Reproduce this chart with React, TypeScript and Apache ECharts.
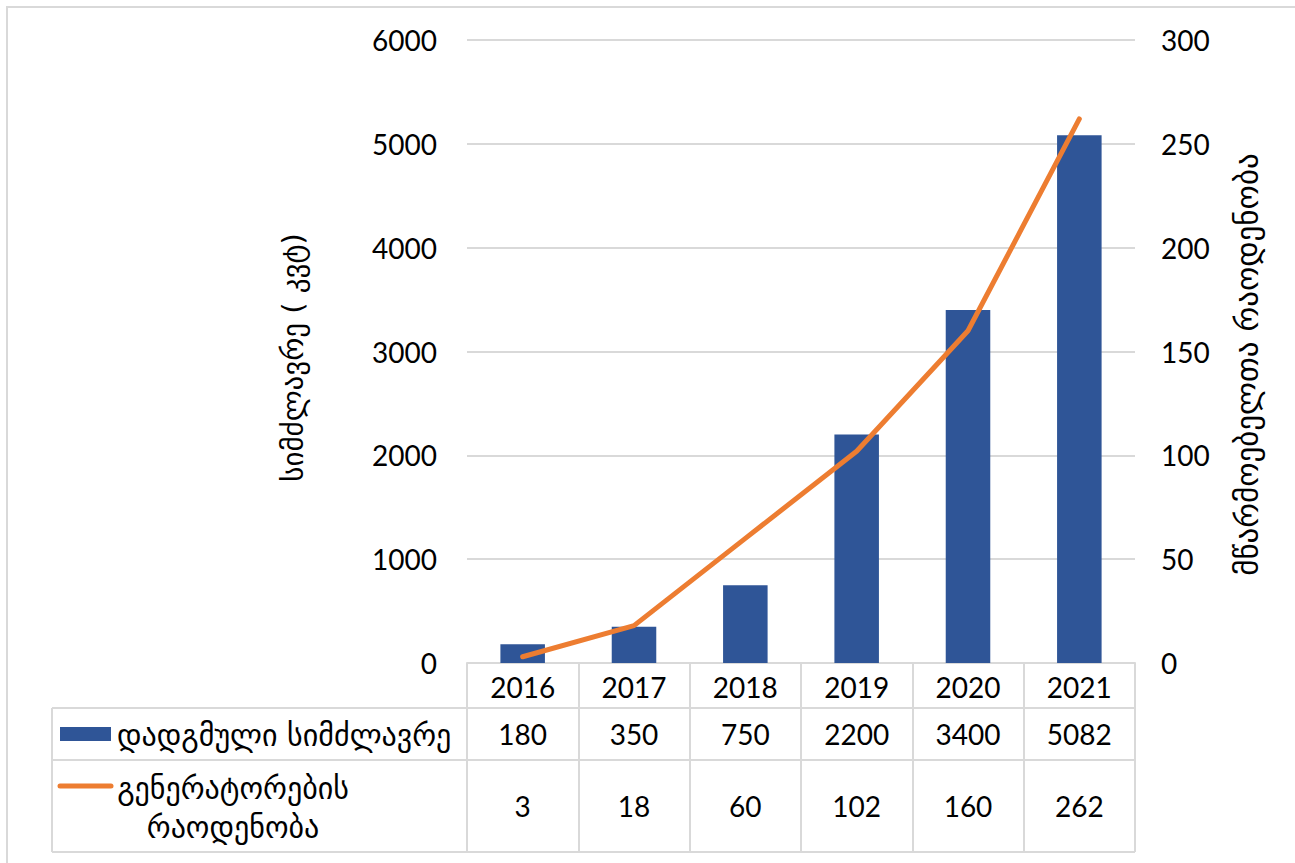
import React, { useEffect, useRef } from "react";
import * as echarts from "echarts";

const years = ["2016", "2017", "2018", "2019", "2020", "2021"];
const capacity = [180, 350, 750, 2200, 3400, 5082];
const generators = [3, 18, 60, 102, 160, 262];
const capacityName = "დადგმული სიმძლავრე";
const generatorsName = ["გენერატორების", "რაოდენობა"];
const leftTitle = "სიმძლავრე ( კვტ)";
const rightTitle = "მწარმოებელთა რაოდენობა";

const W = 1295;
const H = 863;
const gridLeft = 467;
const gridRight = 1135;
const gridTop = 40;
const gridBottom = 663;
const tableLeft = 52;
const row1 = 708;
const row2 = 760;
const row3 = 852;
const FONT = "Lato, 'DejaVu Sans', sans-serif";
const GEO = "'DejaVu Sans', sans-serif";
const BLUE = "#2F5597";
const ORANGE = "#ED7D31";
const GRID = "#D9D9D9";

export default function App() {
  const ref = useRef<HTMLDivElement>(null);
  useEffect(() => {
    document.body.style.margin = "0";
    const chart = echarts.init(ref.current!, null, { renderer: "svg" });
    const colW = (gridRight - gridLeft) / years.length;
    const graphics: any[] = [];
    graphics.push({
      type: "rect",
      shape: { x: 7, y: 7, width: W + 20, height: H + 20 },
      style: { fill: "none", stroke: GRID, lineWidth: 2 },
      silent: true,
    });
    [row1, row2, row3].forEach((y) => {
      graphics.push({
        type: "line",
        shape: { x1: tableLeft, y1: y, x2: gridRight, y2: y },
        style: { stroke: GRID, lineWidth: 2 },
      });
    });
    graphics.push({
      type: "line",
      shape: { x1: tableLeft, y1: row1, x2: tableLeft, y2: row3 },
      style: { stroke: GRID, lineWidth: 2 },
    });
    years.forEach((_, i) => {
      const cx = gridLeft + colW * (i + 0.5);
      graphics.push({
        type: "text",
        x: cx,
        y: (row1 + row2) / 2,
        style: {
          text: String(capacity[i]),
          font: `28px ${FONT}`,
          fill: "#000",
          align: "center",
          verticalAlign: "middle",
        },
      });
      graphics.push({
        type: "text",
        x: cx,
        y: (row2 + row3) / 2,
        style: {
          text: String(generators[i]),
          font: `28px ${FONT}`,
          fill: "#000",
          align: "center",
          verticalAlign: "middle",
        },
      });
    });
    graphics.push({
      type: "rect",
      shape: { x: 60, y: 727, width: 51, height: 14 },
      style: { fill: BLUE },
    });
    graphics.push({
      type: "text",
      x: 117,
      y: 735,
      style: {
        text: capacityName,
        font: `30px ${GEO}`,
        fill: "#000",
        align: "left",
        verticalAlign: "middle",
      },
    });
    graphics.push({
      type: "line",
      shape: { x1: 60, y1: 786, x2: 111, y2: 786 },
      style: { stroke: ORANGE, lineWidth: 5, lineCap: "round" },
    });
    graphics.push({
      type: "text",
      x: 233,
      y: 788,
      style: {
        text: generatorsName[0],
        font: `30px ${GEO}`,
        fill: "#000",
        align: "center",
        verticalAlign: "middle",
      },
    });
    graphics.push({
      type: "text",
      x: 233,
      y: 827,
      style: {
        text: generatorsName[1],
        font: `30px ${GEO}`,
        fill: "#000",
        align: "center",
        verticalAlign: "middle",
      },
    });

    chart.setOption({
      animation: false,
      backgroundColor: "#fff",
      grid: {
        left: gridLeft,
        right: W - gridRight,
        top: gridTop,
        bottom: H - gridBottom,
        containLabel: false,
      },
      xAxis: {
        type: "category",
        data: years,
        axisLine: { show: true, lineStyle: { color: GRID, width: 2 } },
        axisTick: {
          show: true,
          length: row3 - gridBottom,
          lineStyle: { color: GRID, width: 2 },
        },
        axisLabel: {
          margin: 10,
          fontSize: 28,
          fontFamily: FONT,
          color: "#000",
        },
      },
      yAxis: [
        {
          type: "value",
          min: 0,
          max: 6000,
          interval: 1000,
          name: leftTitle,
          nameLocation: "middle",
          nameRotate: 90,
          nameGap: 160,
          nameTextStyle: {
            fontSize: 29,
            fontFamily: GEO,
            color: "#000",
            padding: [0, 12, 0, 0],
          },
          axisLine: { show: false },
          axisTick: { show: false },
          axisLabel: {
            fontSize: 28,
            fontFamily: FONT,
            color: "#000",
            margin: 30,
            formatter: (v: number) => String(v),
          },
          splitLine: { lineStyle: { color: GRID, width: 2 } },
        },
        {
          type: "value",
          min: 0,
          max: 300,
          interval: 50,
          name: rightTitle,
          nameLocation: "middle",
          nameRotate: 90,
          nameGap: 96,
          nameTextStyle: {
            fontSize: 31,
            fontFamily: GEO,
            color: "#000",
            padding: [0, 26, 0, 0],
          },
          axisLine: { show: false },
          axisTick: { show: false },
          axisLabel: {
            fontSize: 28,
            fontFamily: FONT,
            color: "#000",
            margin: 26,
            formatter: (v: number) => String(v),
          },
          splitLine: { show: false },
        },
      ],
      series: [
        {
          type: "bar",
          name: capacityName,
          data: capacity,
          yAxisIndex: 0,
          barWidth: "40%",
          itemStyle: { color: BLUE },
        },
        {
          type: "line",
          name: generatorsName.join(" "),
          data: generators,
          yAxisIndex: 1,
          symbol: "none",
          lineStyle: { color: ORANGE, width: 5, cap: "round" },
        },
      ],
      graphic: graphics,
    });
    return () => chart.dispose();
  }, []);
  return (
    <div
      ref={ref}
      style={{ position: "fixed", left: 0, top: 0, width: W, height: H }}
    />
  );
}
